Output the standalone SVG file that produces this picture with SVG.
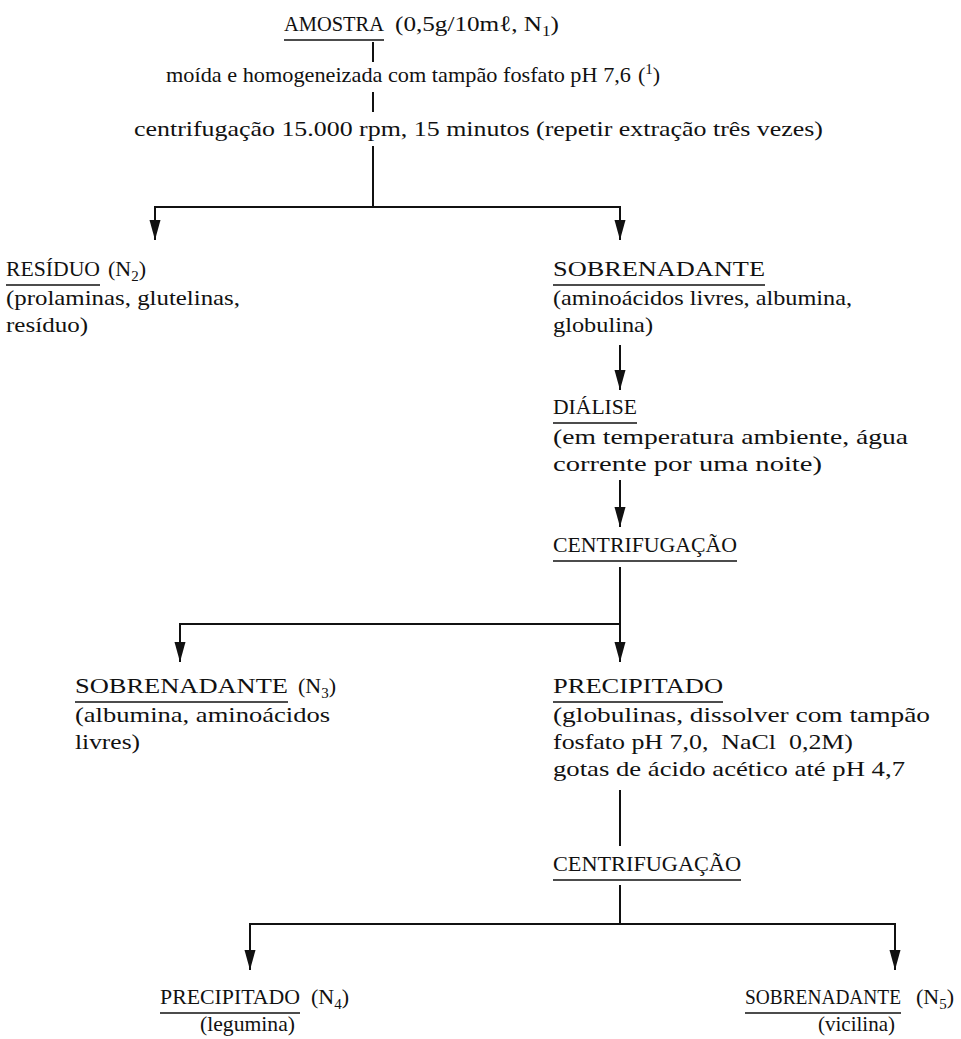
<svg xmlns="http://www.w3.org/2000/svg" width="961" height="1039" viewBox="0 0 961 1039">
<defs>
<marker id="ah" markerWidth="22" markerHeight="12" refX="20" refY="5.5" orient="auto" markerUnits="userSpaceOnUse" viewBox="0 0 22 12">
<path d="M0,0 L20,5.5 L0,11 Z" fill="#111"/>
</marker>
<style>
text{font-family:"Liberation Serif","Times New Roman",serif;font-size:22px;fill:#111;}
.u{stroke:#111;stroke-width:1.6;}
.c line,.c path{stroke:#111;stroke-width:2;fill:none;}
.s{font-size:15px;}
</style>
</defs>
<rect width="961" height="1039" fill="#fff"/>
<g class="c" id="connectors">
<line x1="373" y1="42" x2="373" y2="62"/>
<line x1="373" y1="92" x2="373" y2="112"/>
<line x1="373" y1="146" x2="373" y2="207"/>
<path d="M155,207 L620,207"/>
<line x1="155" y1="206" x2="155" y2="240" marker-end="url(#ah)"/>
<line x1="620" y1="206" x2="620" y2="240" marker-end="url(#ah)"/>
<line x1="620" y1="345" x2="620" y2="390" marker-end="url(#ah)"/>
<line x1="620" y1="480" x2="620" y2="527" marker-end="url(#ah)"/>
<line x1="620" y1="567" x2="620" y2="624"/>
<path d="M180,624 L620,624"/>
<line x1="180" y1="623" x2="180" y2="662" marker-end="url(#ah)"/>
<line x1="620" y1="623" x2="620" y2="662" marker-end="url(#ah)"/>
<line x1="620" y1="790" x2="620" y2="846"/>
<line x1="620" y1="885" x2="620" y2="924"/>
<path d="M250,924 L895,924"/>
<line x1="250" y1="923" x2="250" y2="970" marker-end="url(#ah)"/>
<line x1="895" y1="923" x2="895" y2="970" marker-end="url(#ah)"/>
</g>
<g id="amostra">
<text x="284" y="31" textLength="100" lengthAdjust="spacingAndGlyphs">AMOSTRA</text>
<text x="395" y="31" textLength="164" lengthAdjust="spacingAndGlyphs">(0,5g/10mℓ, N<tspan class="s" dy="5">1</tspan><tspan dy="-5">)</tspan></text>
<line class="u" x1="284" y1="40" x2="384" y2="40"/>
</g>
<g id="moida">
<text x="166" y="82" textLength="465" lengthAdjust="spacingAndGlyphs">moída e homogeneizada com tampão fosfato pH 7,6</text>
<text x="638" y="82">(<tspan class="s" dy="-8">1</tspan><tspan dy="8">)</tspan></text>
</g>
<g id="centrif1">
<text x="134" y="136" textLength="689" lengthAdjust="spacingAndGlyphs">centrifugação 15.000 rpm, 15 minutos (repetir extração três vezes)</text>
</g>
<g id="residuo">
<text x="6" y="276" textLength="94" lengthAdjust="spacingAndGlyphs">RESÍDUO</text>
<text x="108" y="276">(N<tspan class="s" dy="5">2</tspan><tspan dy="-5">)</tspan></text>
<line class="u" x1="6" y1="285" x2="100" y2="285"/>
<text x="6" y="305" textLength="234" lengthAdjust="spacingAndGlyphs">(prolaminas, glutelinas,</text>
<text x="6" y="332" textLength="82" lengthAdjust="spacingAndGlyphs">resíduo)</text>
</g>
<g id="sobrenadante1">
<text x="553" y="276" textLength="212" lengthAdjust="spacingAndGlyphs">SOBRENADANTE</text>
<line class="u" x1="553" y1="285" x2="765" y2="285"/>
<text x="553" y="305" textLength="299" lengthAdjust="spacingAndGlyphs">(aminoácidos livres, albumina,</text>
<text x="553" y="332" textLength="100" lengthAdjust="spacingAndGlyphs">globulina)</text>
</g>
<g id="dialise">
<text x="553" y="414" textLength="84" lengthAdjust="spacingAndGlyphs">DIÁLISE</text>
<line class="u" x1="553" y1="423" x2="637" y2="423"/>
<text x="553" y="444" textLength="355" lengthAdjust="spacingAndGlyphs">(em temperatura ambiente, água</text>
<text x="553" y="471" textLength="269" lengthAdjust="spacingAndGlyphs">corrente por uma noite)</text>
</g>
<g id="centrif2">
<text x="553" y="552" textLength="184" lengthAdjust="spacingAndGlyphs">CENTRIFUGAÇÃO</text>
<line class="u" x1="553" y1="561" x2="737" y2="561"/>
</g>
<g id="sobrenadante3">
<text x="75" y="693" textLength="213" lengthAdjust="spacingAndGlyphs">SOBRENADANTE</text>
<text x="298" y="693">(N<tspan class="s" dy="5">3</tspan><tspan dy="-5">)</tspan></text>
<line class="u" x1="75" y1="702" x2="288" y2="702"/>
<text x="75" y="722" textLength="255" lengthAdjust="spacingAndGlyphs">(albumina, aminoácidos</text>
<text x="75" y="749" textLength="65" lengthAdjust="spacingAndGlyphs">livres)</text>
</g>
<g id="precipitado1">
<text x="553" y="693" textLength="170" lengthAdjust="spacingAndGlyphs">PRECIPITADO</text>
<line class="u" x1="553" y1="702" x2="723" y2="702"/>
<text x="553" y="722" textLength="377" lengthAdjust="spacingAndGlyphs">(globulinas, dissolver com tampão</text>
<text x="553" y="749" textLength="300" lengthAdjust="spacingAndGlyphs" xml:space="preserve">fosfato pH 7,0,  NaCl  0,2M)</text>
<text x="553" y="776" textLength="352" lengthAdjust="spacingAndGlyphs">gotas de ácido acético até pH 4,7</text>
</g>
<g id="centrif3">
<text x="553" y="871" textLength="188" lengthAdjust="spacingAndGlyphs">CENTRIFUGAÇÃO</text>
<line class="u" x1="553" y1="880" x2="741" y2="880"/>
</g>
<g id="precipitado4">
<text x="160" y="1004" textLength="140" lengthAdjust="spacingAndGlyphs">PRECIPITADO</text>
<text x="311" y="1004">(N<tspan class="s" dy="5">4</tspan><tspan dy="-5">)</tspan></text>
<line class="u" x1="160" y1="1013" x2="300" y2="1013"/>
<text x="200" y="1031" textLength="95" lengthAdjust="spacingAndGlyphs">(legumina)</text>
</g>
<g id="sobrenadante5">
<text x="745" y="1004" style="font-size:20px" textLength="156" lengthAdjust="spacingAndGlyphs">SOBRENADANTE</text>
<text x="916" y="1004">(N<tspan class="s" dy="5">5</tspan><tspan dy="-5">)</tspan></text>
<line class="u" x1="745" y1="1013" x2="901" y2="1013"/>
<text x="818" y="1031" textLength="77" lengthAdjust="spacingAndGlyphs">(vicilina)</text>
</g>
</svg>
